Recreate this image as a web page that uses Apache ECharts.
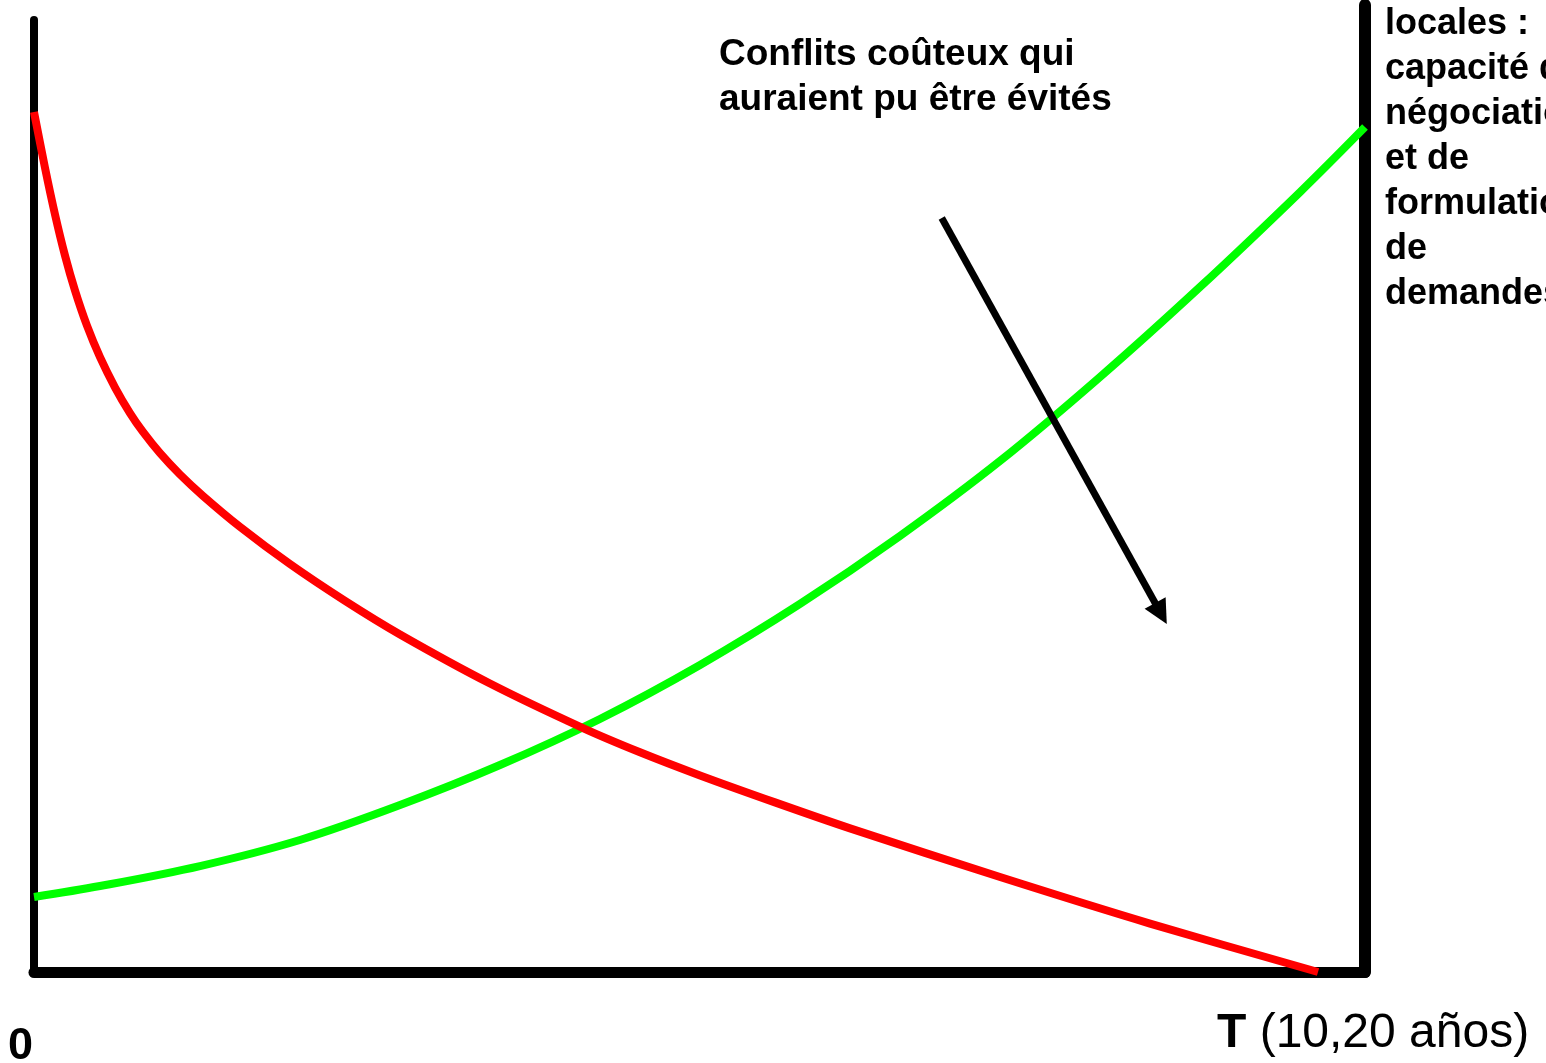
<!DOCTYPE html>
<html>
<head>
<meta charset="utf-8">
<script src="https://cdn.jsdelivr.net/npm/echarts@6/dist/echarts.min.js"></script>
<style>
html,body{margin:0;padding:0;background:#fff;}
#chart{width:1546px;height:1063px;}
</style>
</head>
<body>
<div id="chart"></div>
<script>
// Red curve (decreasing) : [x, y] in axis units (0..100)
const redCurve = [
  [0, 90.34], [0.83, 84.45], [1.58, 79.56], [2.33, 75.25], [3.08, 71.58], [3.98, 67.89],
  [4.96, 64.58], [6.09, 61.39], [7.21, 58.71], [8.19, 56.73], [9.47, 54.50], [10.97, 52.26],
  [12.70, 50.01], [15.48, 46.76], [19.23, 42.85], [23.37, 38.98], [27.50, 35.45], [34.26, 30.30],
  [41.25, 25.62], [45.53, 23.08], [50.04, 20.65], [55.67, 17.82], [61.31, 15.09], [72.58, 9.98],
  [83.85, 5.09], [96.47, 0]
];
// Green curve (increasing)
const greenCurve = [
  [0, 7.88], [4.96, 9.03], [12.47, 11.13], [19.98, 13.87], [27.50, 17.54], [35.01, 21.74],
  [42.52, 26.58], [50.04, 32.25], [57.55, 38.66], [65.06, 45.80], [72.58, 53.68], [80.09, 62.50],
  [87.60, 71.95], [95.12, 81.93], [100, 88.76]
];
// Arrow annotation: start and end (centre of the head) in axis units
const arrowFrom = [68.2, 79.2];
const arrowTo = [84.67, 37.66];

const annotationLines = ['Conflits coûteux qui', 'auraient pu être évités'];
const sideLines = ['locales :', 'capacité de', 'négociation', 'et de', 'formulation', 'de', 'demandes'];
const originLabel = '0';
const timeLabelBold = 'T';
const timeLabelRest = ' (10,20 años)';

const chart = echarts.init(document.getElementById('chart'), null, {renderer: 'canvas'});
const FONT = '"Liberation Sans", Arial, Helvetica, sans-serif';

const option = {
  backgroundColor: '#ffffff',
  animation: false,
  grid: [
    {left: 34, right: 181, top: 20, bottom: 91},
    {left: 34, right: 181, top: 5, bottom: 91}
  ],
  xAxis: [
    {gridIndex: 0, type: 'value', min: 0, max: 100,
     axisLine: {show: true, onZero: false, lineStyle: {color: '#000', width: 11}},
     axisTick: {show: false}, axisLabel: {show: false}, splitLine: {show: false}},
    {gridIndex: 1, type: 'value', min: 0, max: 100, show: false}
  ],
  yAxis: [
    {gridIndex: 0, type: 'value', min: 0, max: 100, position: 'left',
     axisLine: {show: true, onZero: false, lineStyle: {color: '#000', width: 8}},
     axisTick: {show: false}, axisLabel: {show: false}, splitLine: {show: false}},
    {gridIndex: 1, type: 'value', min: 0, max: 100, position: 'right',
     axisLine: {show: true, onZero: false, lineStyle: {color: '#000', width: 12}},
     axisTick: {show: false}, axisLabel: {show: false}, splitLine: {show: false}}
  ],
  series: [
    {
      type: 'line', xAxisIndex: 0, yAxisIndex: 0,
      data: greenCurve, smooth: 0.35, showSymbol: false, clip: false, silent: true,
      lineStyle: {color: '#00ff00', width: 8, cap: 'butt', join: 'round'}, z: 3
    },
    {
      type: 'line', xAxisIndex: 0, yAxisIndex: 0,
      data: redCurve, smooth: 0.3, showSymbol: false, clip: false, silent: true,
      lineStyle: {color: '#ff0000', width: 8, cap: 'butt', join: 'round'}, z: 4,
      markLine: {
        silent: true,
        symbol: ['none', 'triangle'],
        symbolSize: 24,
        label: {show: false},
        lineStyle: {color: '#000', width: 7, type: 'solid'},
        itemStyle: {color: '#000'},
        emphasis: {disabled: true},
        data: [[{coord: arrowFrom}, {coord: arrowTo}]]
      }
    }
  ],
  graphic: [
    {type: 'text', left: 719, top: 32, silent: true,
     style: {text: annotationLines.join('\n'), font: 'bold 37px ' + FONT, fill: '#000', lineHeight: 45}},
    {type: 'text', left: 1385, top: 2, silent: true,
     style: {text: sideLines.join('\n'), font: 'bold 36px ' + FONT, fill: '#000', lineHeight: 45}},
    {type: 'text', left: 8, top: 1024, silent: true,
     style: {text: originLabel, font: 'bold 45px ' + FONT, fill: '#000'}},
    {type: 'text', left: 1217, top: 1010, silent: true,
     style: {
       text: '{b|' + timeLabelBold + '}{r|' + timeLabelRest + '}',
       rich: {
         b: {font: 'bold 48px ' + FONT, fill: '#000'},
         r: {font: '48px ' + FONT, fill: '#000'}
       }
     }}
  ]
};
chart.setOption(option);
</script>
</body>
</html>
